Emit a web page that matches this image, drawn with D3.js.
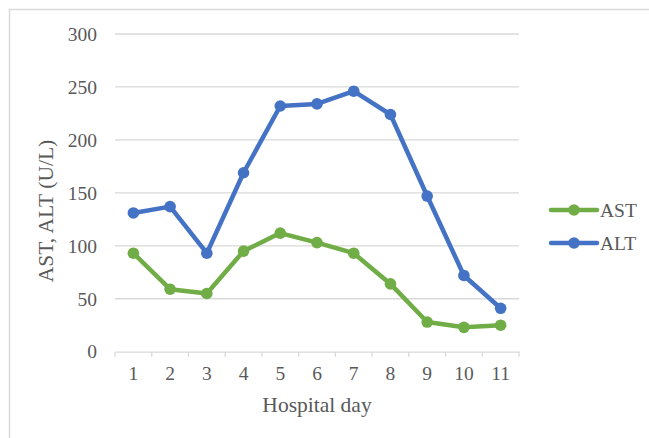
<!DOCTYPE html>
<html>
<head>
<meta charset="utf-8">
<script src="https://cdn.jsdelivr.net/npm/d3@7"></script>
<style>
  html, body { margin: 0; padding: 0; background: #fff; }
  svg { display: block; }
  text { font-family: "Liberation Serif", "Times New Roman", serif; fill: #595959; }
</style>
</head>
<body>
<svg id="chart" width="649" height="438"></svg>
<script>
const days = ["1","2","3","4","5","6","7","8","9","10","11"];
const astValues = [93, 59, 55, 95, 112, 103, 93, 64, 28, 23, 25];
const altValues = [131, 137, 93, 169, 232, 234, 246, 224, 147, 72, 41];
const yTicks = [0, 50, 100, 150, 200, 250, 300];
const seriesNames = ["AST", "ALT"];
const seriesColors = ["#70AD47", "#4472C4"];

const series = [
  { name: seriesNames[0], color: seriesColors[0], values: astValues },
  { name: seriesNames[1], color: seriesColors[1], values: altValues }
];

const svg = d3.select("#chart");

// chart frame
svg.append("rect")
  .attr("x", 9.5).attr("y", 9.5)
  .attr("width", 700).attr("height", 500)
  .attr("fill", "none").attr("stroke", "#d9d9d9").attr("stroke-width", 1.5);

const x = d3.scaleBand().domain(days).range([115, 519]);
const y = d3.scaleLinear().domain([0, 300]).range([351.7, 34]);

// gridlines
svg.append("g").selectAll("line")
  .data(yTicks.filter(t => t > 0))
  .join("line")
  .attr("x1", 115).attr("x2", 519)
  .attr("y1", d => y(d)).attr("y2", d => y(d))
  .attr("stroke", "#d9d9d9").attr("stroke-width", 1.3);

// y axis labels
const yAxis = d3.axisLeft(y).tickValues(yTicks).tickSize(0).tickPadding(18);
const gy = svg.append("g").attr("transform", "translate(115,0)").call(yAxis);
gy.select(".domain").remove();
gy.selectAll("text")
  .style("font-family", '"Liberation Serif", "Times New Roman", serif')
  .style("font-size", "19.5px").attr("fill", "#595959");

// x axis
const xAxis = d3.axisBottom(x).tickSize(0).tickPadding(14);
const gx = svg.append("g").attr("transform", `translate(0,${y(0)})`).call(xAxis);
gx.select(".domain").attr("stroke", "#d9d9d9").attr("stroke-width", 1.3);
gx.selectAll("text")
  .style("font-family", '"Liberation Serif", "Times New Roman", serif')
  .style("font-size", "19.5px").attr("fill", "#595959");
// tick marks at band boundaries
const bounds = days.map(d => x(d)).concat([x(days[days.length - 1]) + x.bandwidth()]);
gx.append("g").selectAll("line").data(bounds).join("line")
  .attr("x1", d => d).attr("x2", d => d)
  .attr("y1", 0).attr("y2", 5)
  .attr("stroke", "#d9d9d9").attr("stroke-width", 1.3);

// axis titles
svg.append("text")
  .attr("x", 317).attr("y", 411.5)
  .attr("text-anchor", "middle")
  .style("font-size", "21.5px")
  .text("Hospital day");

svg.append("text")
  .attr("transform", "translate(53,211) rotate(-90)")
  .attr("text-anchor", "middle")
  .style("font-size", "21.5px")
  .text("AST, ALT (U/L)");

// lines
const line = d3.line()
  .x((d, i) => x(days[i]) + x.bandwidth() / 2)
  .y(d => y(d));

series.forEach(s => {
  svg.append("path")
    .datum(s.values)
    .attr("d", line)
    .attr("fill", "none")
    .attr("stroke", s.color)
    .attr("stroke-width", 4.5)
    .attr("stroke-linejoin", "round")
    .attr("stroke-linecap", "round");
  svg.append("g").selectAll("circle")
    .data(s.values)
    .join("circle")
    .attr("cx", (d, i) => x(days[i]) + x.bandwidth() / 2)
    .attr("cy", d => y(d))
    .attr("r", 5.8)
    .attr("fill", s.color);
});

// legend
const legend = svg.append("g");
series.forEach((s, i) => {
  const ly = 210 + i * 33;
  legend.append("line")
    .attr("x1", 551).attr("x2", 597)
    .attr("y1", ly).attr("y2", ly)
    .attr("stroke", s.color).attr("stroke-width", 4.5)
    .attr("stroke-linecap", "round");
  legend.append("circle")
    .attr("cx", 574).attr("cy", ly).attr("r", 5.8).attr("fill", s.color);
  legend.append("text")
    .attr("x", 600).attr("y", ly + 7)
    .style("font-size", "19.5px")
    .text(s.name);
});
</script>
</body>
</html>
